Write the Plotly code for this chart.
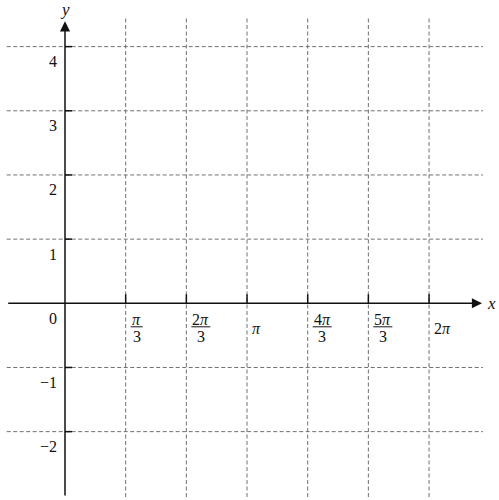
import math
import plotly.graph_objects as go

# tick positions and labels
x_ticks = [math.pi / 3 * k for k in range(1, 7)]
x_num = ["<i>π</i>", "2<i>π</i>", None, "4<i>π</i>", "5<i>π</i>", None]
x_den = ["3", "3", None, "3", "3", None]
x_plain = [None, None, "<i>π</i>", None, None, "2<i>π</i>"]

y_ticks = [-2, -1, 1, 2, 3, 4]
y_labels = ["−2", "−1", "1", "2", "3", "4"]

# pixel geometry of the picture
W, H = 499, 500
X0_PX, Y0_PX = 65.0, 303.3
PX_X = 57.94   # pixels per radian
PX_Y = 64.17   # pixels per unit

x_range = [-X0_PX / PX_X, (W - X0_PX) / PX_X]
y_range = [-(H - Y0_PX) / PX_Y, Y0_PX / PX_Y]

def dx(p):
    return p / PX_X

def dy(p):
    return p / PX_Y

grid_left, grid_right = dx(-58.3), dx(418)
grid_bottom, grid_top = dy(-193.7), dy(285.3)

GRID = "#707070"
AXIS = "#111111"
TXT = "#111111"
FONT = "Liberation Serif, Times New Roman, serif"

fig = go.Figure()
shapes = []
annotations = []

# dashed grid
for xt in x_ticks:
    shapes.append(dict(type="line", xref="x", yref="y", x0=xt, x1=xt, y0=grid_bottom, y1=grid_top,
                       line=dict(color=GRID, width=1, dash="4px,2.5px")))
for yt in y_ticks:
    shapes.append(dict(type="line", xref="x", yref="y", x0=grid_left, x1=grid_right, y0=yt, y1=yt,
                       line=dict(color=GRID, width=1, dash="4px,2.5px")))

# small tick marks
for xt in x_ticks:
    shapes.append(dict(type="line", xref="x", yref="y", x0=xt, x1=xt, y0=0, y1=dy(9),
                       line=dict(color=AXIS, width=1.5)))
for yt in y_ticks:
    shapes.append(dict(type="line", xref="x", yref="y", x0=0, x1=dx(7), y0=yt, y1=yt,
                       line=dict(color=AXIS, width=1.5)))

# axes with arrows
annotations.append(dict(x=dx(417), y=0, ax=dx(-58.3), ay=0, xref="x", yref="y", axref="x", ayref="y",
                        text="", showarrow=True, arrowhead=2, arrowsize=1.35, arrowwidth=1.5,
                        arrowcolor=AXIS, standoff=0, startstandoff=0))
annotations.append(dict(x=0, y=dy(282), ax=0, ay=dy(-193.7), xref="x", yref="y", axref="x", ayref="y",
                        text="", showarrow=True, arrowhead=2, arrowsize=1.35, arrowwidth=1.5,
                        arrowcolor=AXIS, standoff=0, startstandoff=0))

# axis names
annotations.append(dict(x=dx(426), y=0, xref="x", yref="y", text="<i>x</i>", showarrow=False,
                        font=dict(family=FONT, size=17, color=TXT)))
annotations.append(dict(x=0, y=dy(294), xref="x", yref="y", text="<i>y</i>", showarrow=False,
                        font=dict(family=FONT, size=17, color=TXT)))

# x tick labels
for xt, num, den, plain in zip(x_ticks, x_num, x_den, x_plain):
    if num is not None:
        w = 12 if len(num) < 9 else 19
        cx = 5 + w / 2
        annotations.append(dict(x=xt, y=0, xref="x", yref="y", text=num, showarrow=False,
                                xshift=cx, yshift=-16.5, font=dict(family=FONT, size=16, color=TXT)))
        annotations.append(dict(x=xt, y=0, xref="x", yref="y", text=den, showarrow=False,
                                xshift=cx, yshift=-33, font=dict(family=FONT, size=16, color=TXT)))
        shapes.append(dict(type="line", xref="x", yref="y", x0=xt + dx(5), x1=xt + dx(5 + w),
                           y0=-dy(23.5), y1=-dy(23.5), line=dict(color=TXT, width=1)))
    else:
        annotations.append(dict(x=xt, y=0, xref="x", yref="y", text=plain, showarrow=False,
                                xanchor="left", xshift=3, yshift=-25,
                                font=dict(family=FONT, size=16, color=TXT)))

# y tick labels
for yt, lab in zip(y_ticks + [0], y_labels + ["0"]):
    annotations.append(dict(x=0, y=yt, xref="x", yref="y", text=lab, showarrow=False,
                            xanchor="right", xshift=-6, yshift=-15,
                            font=dict(family=FONT, size=16, color=TXT)))

fig.update_layout(
    width=W, height=H,
    margin=dict(l=0, r=0, t=0, b=0),
    plot_bgcolor="white", paper_bgcolor="white",
    showlegend=False,
    shapes=shapes,
    annotations=annotations,
    xaxis=dict(range=x_range, visible=False, fixedrange=True),
    yaxis=dict(range=y_range, visible=False, fixedrange=True),
)

# the page has a default body margin; drop it so the figure fills the window
fig.write_html("out.html", config={"displayModeBar": False},
               post_script="document.body.style.margin='0';document.body.style.overflow='hidden';")
